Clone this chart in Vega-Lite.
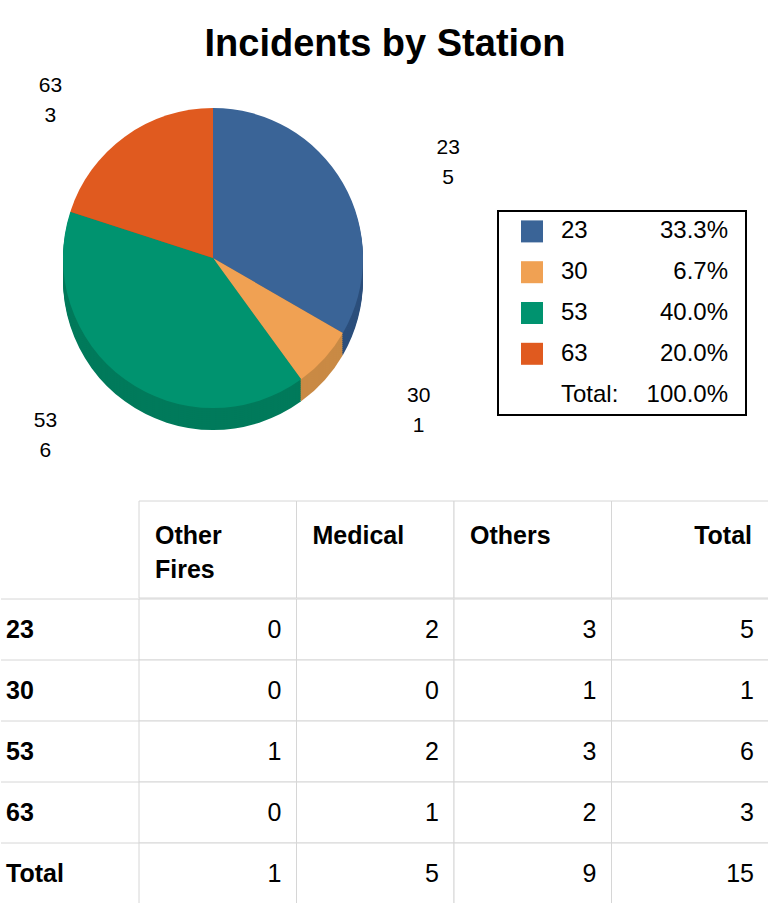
{
  "$schema": "https://vega.github.io/schema/vega-lite/v6.json",
  "padding": {"top": 26, "left": 0, "right": 0, "bottom": 0},
  "title": {"text": "Incidents by Station", "anchor": "middle", "fontSize": 38, "fontWeight": "bold", "font": "Liberation Sans", "color": "#000", "offset": 6},
  "config": {
    "font": "Liberation Sans",
    "view": {"stroke": null},
    "axis": {"disable": true},
    "legend": {"disable": true},
    "concat": {"spacing": 0}
  },
  "datasets": {
    "pie": [
      {"station": "23", "count": 5},
      {"station": "30", "count": 1},
      {"station": "53", "count": 6},
      {"station": "63", "count": 3}
    ],
    "legend": [
      {"key": "23", "pct": "33.3%"},
      {"key": "30", "pct": "6.7%"},
      {"key": "53", "pct": "40.0%"},
      {"key": "63", "pct": "20.0%"},
      {"key": "Total:", "pct": "100.0%"}
    ],
    "cols": [
      {"col": "Other Fires"},
      {"col": "Medical"},
      {"col": "Others"},
      {"col": "Total"}
    ],
    "rows": [
      {"row": "23"}, {"row": "30"}, {"row": "53"}, {"row": "63"}, {"row": "Total"}
    ],
    "table": [
      {"row": "23", "col": "Other Fires", "value": 0},
      {"row": "23", "col": "Medical", "value": 2},
      {"row": "23", "col": "Others", "value": 3},
      {"row": "23", "col": "Total", "value": 5},
      {"row": "30", "col": "Other Fires", "value": 0},
      {"row": "30", "col": "Medical", "value": 0},
      {"row": "30", "col": "Others", "value": 1},
      {"row": "30", "col": "Total", "value": 1},
      {"row": "53", "col": "Other Fires", "value": 1},
      {"row": "53", "col": "Medical", "value": 2},
      {"row": "53", "col": "Others", "value": 3},
      {"row": "53", "col": "Total", "value": 6},
      {"row": "63", "col": "Other Fires", "value": 0},
      {"row": "63", "col": "Medical", "value": 1},
      {"row": "63", "col": "Others", "value": 2},
      {"row": "63", "col": "Total", "value": 3},
      {"row": "Total", "col": "Other Fires", "value": 1},
      {"row": "Total", "col": "Medical", "value": 5},
      {"row": "Total", "col": "Others", "value": 9},
      {"row": "Total", "col": "Total", "value": 15}
    ]
  },
  "spacing": 0,
  "resolve": {"scale": {"x": "independent", "y": "independent", "color": "independent"}},
  "vconcat": [
    {
      "hconcat": [
        {
          "width": 424,
          "height": 376,
          "data": {"name": "pie"},
          "transform": [{"calculate": "datum.station + '\\n' + datum.count", "as": "label"}],
          "encoding": {
            "theta": {"field": "count", "type": "quantitative", "stack": true},
            "order": {"field": "station", "type": "ordinal", "sort": "ascending"}
          },
          "layer": [
            {"mark": {"type": "arc", "radius": 150, "yOffset": 22}, "encoding": {"fill": {"field": "station", "type": "nominal", "scale": {"domain": ["23", "30", "53", "63"], "range": ["#2c4f7c", "#c98a45", "#007a5b", "#b54617"]}}}},
            {"mark": {"type": "arc", "radius": 150, "yOffset": 20}, "encoding": {"fill": {"field": "station", "type": "nominal", "scale": {"domain": ["23", "30", "53", "63"], "range": ["#2c4f7c", "#c98a45", "#007a5b", "#b54617"]}}}},
            {"mark": {"type": "arc", "radius": 150, "yOffset": 18}, "encoding": {"fill": {"field": "station", "type": "nominal", "scale": {"domain": ["23", "30", "53", "63"], "range": ["#2c4f7c", "#c98a45", "#007a5b", "#b54617"]}}}},
            {"mark": {"type": "arc", "radius": 150, "yOffset": 16}, "encoding": {"fill": {"field": "station", "type": "nominal", "scale": {"domain": ["23", "30", "53", "63"], "range": ["#2c4f7c", "#c98a45", "#007a5b", "#b54617"]}}}},
            {"mark": {"type": "arc", "radius": 150, "yOffset": 14}, "encoding": {"fill": {"field": "station", "type": "nominal", "scale": {"domain": ["23", "30", "53", "63"], "range": ["#2c4f7c", "#c98a45", "#007a5b", "#b54617"]}}}},
            {"mark": {"type": "arc", "radius": 150, "yOffset": 12}, "encoding": {"fill": {"field": "station", "type": "nominal", "scale": {"domain": ["23", "30", "53", "63"], "range": ["#2c4f7c", "#c98a45", "#007a5b", "#b54617"]}}}},
            {"mark": {"type": "arc", "radius": 150, "yOffset": 10}, "encoding": {"fill": {"field": "station", "type": "nominal", "scale": {"domain": ["23", "30", "53", "63"], "range": ["#2c4f7c", "#c98a45", "#007a5b", "#b54617"]}}}},
            {"mark": {"type": "arc", "radius": 150, "yOffset": 8}, "encoding": {"fill": {"field": "station", "type": "nominal", "scale": {"domain": ["23", "30", "53", "63"], "range": ["#2c4f7c", "#c98a45", "#007a5b", "#b54617"]}}}},
            {"mark": {"type": "arc", "radius": 150, "yOffset": 6}, "encoding": {"fill": {"field": "station", "type": "nominal", "scale": {"domain": ["23", "30", "53", "63"], "range": ["#2c4f7c", "#c98a45", "#007a5b", "#b54617"]}}}},
            {"mark": {"type": "arc", "radius": 150, "yOffset": 4}, "encoding": {"fill": {"field": "station", "type": "nominal", "scale": {"domain": ["23", "30", "53", "63"], "range": ["#2c4f7c", "#c98a45", "#007a5b", "#b54617"]}}}},
            {"mark": {"type": "arc", "radius": 150, "yOffset": 2}, "encoding": {"fill": {"field": "station", "type": "nominal", "scale": {"domain": ["23", "30", "53", "63"], "range": ["#2c4f7c", "#c98a45", "#007a5b", "#b54617"]}}}},
            {
              "mark": {"type": "arc", "radius": 150},
              "encoding": {"color": {"field": "station", "type": "nominal", "scale": {"domain": ["23", "30", "53", "63"], "range": ["#3a6497", "#f0a153", "#00936f", "#e05a1f"]}}}
            },
            {
              "mark": {"type": "text", "radius": 200, "dx": -45, "yOffset": -10, "lineBreak": "\n", "lineHeight": 30, "fontSize": 21, "color": "#000"},
              "encoding": {"detail": {"field": "station", "type": "nominal"}, "text": {"field": "label", "type": "nominal"}, "opacity": {"condition": {"test": "datum.station == '63'", "value": 1}, "value": 0}}
            },
            {
              "mark": {"type": "text", "radius": 200, "dx": 62, "yOffset": -10, "lineBreak": "\n", "lineHeight": 30, "fontSize": 21, "color": "#000"},
              "encoding": {"detail": {"field": "station", "type": "nominal"}, "text": {"field": "label", "type": "nominal"}, "opacity": {"condition": {"test": "datum.station == '23'", "value": 1}, "value": 0}}
            },
            {
              "mark": {"type": "text", "radius": 200, "dx": 57, "yOffset": 4, "lineBreak": "\n", "lineHeight": 30, "fontSize": 21, "color": "#000"},
              "encoding": {"detail": {"field": "station", "type": "nominal"}, "text": {"field": "label", "type": "nominal"}, "opacity": {"condition": {"test": "datum.station == '30'", "value": 1}, "value": 0}}
            },
            {
              "mark": {"type": "text", "radius": 200, "dx": -50, "yOffset": 1, "lineBreak": "\n", "lineHeight": 30, "fontSize": 21, "color": "#000"},
              "encoding": {"detail": {"field": "station", "type": "nominal"}, "text": {"field": "label", "type": "nominal"}, "opacity": {"condition": {"test": "datum.station == '53'", "value": 1}, "value": 0}}
            }
          ]
        },
        {
          "vconcat": [
            {
              "width": 248,
              "height": 141,
              "data": {"values": [{}]},
              "mark": {"type": "text"},
              "encoding": {"text": {"value": ""}}
            },
            {
              "width": 248,
              "height": 204,
              "view": {"stroke": "#000", "strokeWidth": 2},
              "data": {"name": "legend"},
              "encoding": {
                "y": {"field": "key", "type": "nominal", "sort": null, "scale": {"domain": ["23", "30", "53", "63", "Total:"], "paddingInner": 0, "paddingOuter": 0.3}}
              },
              "layer": [
                {
                  "transform": [{"filter": "datum.key != 'Total:'"}],
                  "mark": {"type": "square", "size": 484, "filled": true, "opacity": 1, "xOffset": -90},
                  "encoding": {"color": {"field": "key", "type": "nominal", "scale": {"domain": ["23", "30", "53", "63"], "range": ["#3a6497", "#f0a153", "#00936f", "#e05a1f"]}}}
                },
                {
                  "mark": {"type": "text", "align": "left", "dx": -61, "fontSize": 24, "color": "#000"},
                  "encoding": {"text": {"field": "key", "type": "nominal"}}
                },
                {
                  "mark": {"type": "text", "align": "right", "dx": 106, "fontSize": 24, "color": "#000"},
                  "encoding": {"text": {"field": "pct", "type": "nominal"}}
                }
              ]
            },
            {
              "width": 248,
              "height": 85,
              "data": {"values": [{}]},
              "mark": {"type": "text"},
              "encoding": {"text": {"value": ""}}
            }
          ],
          "spacing": 0,
          "bounds": "flush"
        }
      ],
      "spacing": 73,
      "bounds": "flush",
      "resolve": {"scale": {"x": "independent", "y": "independent", "color": "independent"}}
    },
    {
      "vconcat": [
        {
          "hconcat": [
            {
              "width": 138,
              "height": 97,
              "data": {"values": [{}]},
              "mark": {"type": "text"},
              "encoding": {"text": {"value": ""}}
            },
            {
              "width": 630,
              "height": 97,
              "data": {"name": "cols"},
              "encoding": {
                "x": {"field": "col", "type": "nominal", "sort": null, "scale": {"domain": ["Other Fires", "Medical", "Others", "Total"], "paddingInner": 0, "paddingOuter": 0}}
              },
              "layer": [
                {
                  "mark": {"type": "rect", "fill": "#fff", "stroke": "#d6d6d6", "strokeWidth": 1}
                },
                {
                  "transform": [{"filter": "datum.col != 'Total'"}],
                  "mark": {"type": "text", "align": "left", "baseline": "alphabetic", "dx": 16, "dy": -6, "lineBreak": " ", "lineHeight": 34, "fontWeight": "bold", "fontSize": 25, "color": "#000"},
                  "encoding": {"x": {"field": "col", "type": "nominal", "bandPosition": 0}, "text": {"field": "col", "type": "nominal"}}
                },
                {
                  "transform": [{"filter": "datum.col == 'Total'"}],
                  "mark": {"type": "text", "align": "right", "baseline": "alphabetic", "dx": -17, "dy": -6, "fontWeight": "bold", "fontSize": 25, "color": "#000"},
                  "encoding": {"x": {"field": "col", "type": "nominal", "bandPosition": 1}, "text": {"field": "col", "type": "nominal"}}
                }
              ]
            }
          ],
          "spacing": 0,
          "bounds": "flush",
          "resolve": {"scale": {"x": "independent", "y": "independent"}}
        },
        {
          "hconcat": [
            {
              "width": 138,
              "height": 305,
              "data": {"name": "rows"},
              "encoding": {
                "y": {"field": "row", "type": "nominal", "sort": null, "scale": {"domain": ["23", "30", "53", "63", "Total"], "paddingInner": 0, "paddingOuter": 0}}
              },
              "layer": [
                {
                  "mark": {"type": "rule", "color": "#d6d6d6", "strokeWidth": 1},
                  "encoding": {"y": {"field": "row", "type": "nominal", "bandPosition": 0}}
                },
                {
                  "mark": {"type": "text", "align": "left", "dx": -64, "fontWeight": "bold", "fontSize": 25, "color": "#000"},
                  "encoding": {"text": {"field": "row", "type": "nominal"}}
                }
              ]
            },
            {
              "width": 630,
              "height": 305,
              "data": {"name": "table"},
              "encoding": {
                "x": {"field": "col", "type": "nominal", "sort": null, "scale": {"domain": ["Other Fires", "Medical", "Others", "Total"], "paddingInner": 0, "paddingOuter": 0}},
                "y": {"field": "row", "type": "nominal", "sort": null, "scale": {"domain": ["23", "30", "53", "63", "Total"], "paddingInner": 0, "paddingOuter": 0}}
              },
              "layer": [
                {
                  "mark": {"type": "rect", "fill": "#fff", "stroke": "#d6d6d6", "strokeWidth": 1}
                },
                {
                  "mark": {"type": "text", "align": "right", "dx": -15, "fontSize": 25, "color": "#000"},
                  "encoding": {"x": {"field": "col", "type": "nominal", "bandPosition": 1}, "text": {"field": "value", "type": "quantitative"}}
                }
              ]
            }
          ],
          "spacing": 0,
          "bounds": "flush",
          "resolve": {"scale": {"x": "independent", "y": "independent"}}
        }
      ],
      "spacing": -1,
      "resolve": {"scale": {"x": "independent", "y": "independent"}}
    }
  ]
}
